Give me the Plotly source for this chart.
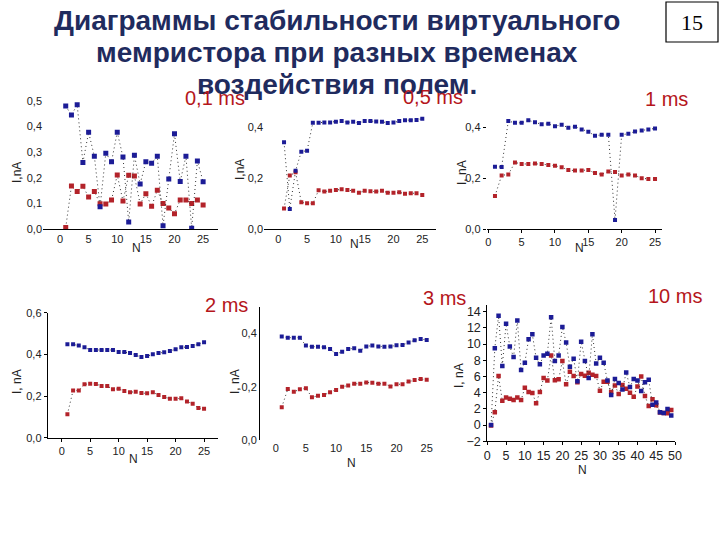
import plotly.graph_objects as go

W, H = 720, 540

# ---- data ----
n25 = list(range(1, 26))
n49 = list(range(1, 50))

blue_01 = [0.48, 0.445, 0.485, 0.26, 0.378, 0.284, 0.087, 0.296, 0.263, 0.378,
           0.281, 0.027, 0.288, 0.176, 0.263, 0.257, 0.284, 0.013, 0.195, 0.372,
           0.186, 0.284, 0.003, 0.266, 0.185]
red_01 = [0.006, 0.168, 0.146, 0.167, 0.125, 0.146, 0.099, 0.098, 0.113, 0.211,
          0.109, 0.21, 0.207, 0.098, 0.138, 0.089, 0.151, 0.1, 0.082, 0.06,
          0.113, 0.113, 0.1, 0.113, 0.094]

blue_05 = [0.341, 0.079, 0.229, 0.304, 0.308, 0.418, 0.418, 0.419, 0.419, 0.422,
           0.425, 0.419, 0.422, 0.417, 0.425, 0.425, 0.423, 0.422, 0.417, 0.419,
           0.425, 0.428, 0.428, 0.429, 0.433]
red_05 = [0.081, 0.21, 0.223, 0.105, 0.101, 0.101, 0.152, 0.147, 0.15, 0.153,
          0.156, 0.153, 0.15, 0.143, 0.15, 0.148, 0.147, 0.15, 0.143, 0.143,
          0.144, 0.139, 0.141, 0.141, 0.134]

blue_1 = [0.245, 0.244, 0.425, 0.418, 0.418, 0.428, 0.42, 0.412, 0.414, 0.405,
          0.41, 0.399, 0.403, 0.392, 0.383, 0.367, 0.371, 0.371, 0.035, 0.371,
          0.375, 0.384, 0.388, 0.392, 0.396]
red_1 = [0.13, 0.211, 0.215, 0.262, 0.256, 0.256, 0.258, 0.256, 0.252, 0.249,
         0.243, 0.232, 0.23, 0.23, 0.232, 0.22, 0.215, 0.226, 0.224, 0.211,
         0.215, 0.211, 0.2, 0.197, 0.197]

blue_2 = [0.448, 0.448, 0.442, 0.434, 0.421, 0.421, 0.421, 0.421, 0.421, 0.411,
          0.411, 0.406, 0.397, 0.387, 0.392, 0.4, 0.406, 0.41, 0.416, 0.424,
          0.434, 0.435, 0.44, 0.448, 0.458]
red_2 = [0.112, 0.227, 0.227, 0.256, 0.259, 0.258, 0.248, 0.248, 0.232, 0.235,
         0.224, 0.218, 0.221, 0.214, 0.213, 0.218, 0.205, 0.195, 0.187, 0.187,
         0.189, 0.174, 0.163, 0.142, 0.139]

blue_3 = [0.388, 0.384, 0.384, 0.384, 0.354, 0.35, 0.35, 0.348, 0.341, 0.323,
          0.331, 0.341, 0.344, 0.335, 0.351, 0.354, 0.351, 0.35, 0.351, 0.355,
          0.356, 0.366, 0.374, 0.379, 0.375]
red_3 = [0.123, 0.191, 0.181, 0.19, 0.194, 0.16, 0.166, 0.169, 0.179, 0.188,
         0.2, 0.204, 0.211, 0.211, 0.216, 0.215, 0.211, 0.211, 0.201, 0.209,
         0.209, 0.219, 0.225, 0.229, 0.226]

blue_10 = [0.0, 9.5, 13.5, 7.3, 12.5, 9.7, 8.4, 12.9, 6.8, 7.7,
           10.6, 11.2, 8.3, 7.5, 8.6, 8.8, 13.3, 7.9, 8.6, 12.1,
           10.2, 7.2, 8.2, 5.4, 10.3, 7.9, 5.8, 11.2, 7.6, 8.3,
           7.7, 5.5, 3.7, 5.7, 5.2, 4.4, 6.5, 4.7, 5.7, 5.5,
           4.2, 5.3, 5.6, 2.5, 2.8, 1.6, 1.5, 2.0, 1.2]
red_10 = [-0.05, 1.6, 6.05, 3.0, 3.4, 3.25, 3.1, 3.4, 3.1, 4.6,
          4.1, 3.95, 2.7, 4.1, 5.8, 5.5, 8.6, 5.55, 5.65, 7.9,
          5.05, 6.6, 6.05, 5.3, 6.3, 6.1, 6.45, 6.2, 6.05, 4.25,
          5.35, 5.35, 4.1, 4.9, 3.85, 4.95, 4.5, 4.0, 3.5, 4.75,
          6.0, 3.6, 2.35, 3.2, 2.45, 1.55, 1.5, 1.45, 1.85]

title_lines = ["Диаграммы стабильности виртуального",
               "мемристора при разных временах",
               "воздействия полем."]

BLUE = "#1c1c96"
RED = "#b3232a"
NAVY = "#1f2b5e"
MS_RED = "#b5161b"
FONT = "Liberation Sans, Arial"
TICKFONT = dict(family=FONT, size=11, color="#222222")


def px(x):
    return x / W


def py(y):
    return 1 - y / H


# one dict per small chart: pixel spans on the slide + axis ranges
panels = [
    dict(x=n25, b=blue_01, r=red_01, xd=(43, 218), xr=[-2.97, 27.6], yd=(229, 93.3), yr=[0, 0.53],
         yt=[0, 0.1, 0.2, 0.3, 0.4, 0.5], xline=True, yline=False, ticks=False, ms=5),
    dict(x=n25, b=blue_05, r=red_05, xd=(264, 435.7), xr=[-2.48, 27.33], yd=(229, 112), yr=[0, 0.46],
         yt=[0, 0.2, 0.4], xline=True, yline=False, ticks=False, ms=4),
    dict(x=n25, b=blue_1, r=red_1, xd=(486.7, 661.7), xr=[-0.24, 26.0], yd=(229, 102), yr=[0, 0.5],
         yt=[0, 0.2, 0.4], xline=True, yline=False, ticks=True, ms=4),
    dict(x=n25, b=blue_2, r=red_2, xd=(47.7, 218.3), xr=[-2.46, 27.5], yd=(437.7, 312.7), yr=[0, 0.6],
         yt=[0, 0.2, 0.4, 0.6], xline=True, yline=True, ticks=True, ms=4),
    dict(x=n25, b=blue_3, r=red_3, xd=(260, 441.8), xr=[-2.6, 27.5], yd=(440, 306.7), yr=[0, 0.5],
         yt=[0, 0.2, 0.4], xline=False, yline=True, ticks=False, ms=4),
    dict(x=n49, b=blue_10, r=red_10, xd=(487.3, 675), xr=[0, 50], yd=(441.3, 305.2), yr=[-2, 14.8],
         yt=list(range(-2, 15, 2)), xline=True, yline=True, ticks=True, ms=4.5, big=True),
]

fig = go.Figure()
layout = {}

for i, p in enumerate(panels, start=1):
    xa = "x" if i == 1 else f"x{i}"
    ya = "y" if i == 1 else f"y{i}"
    for vals, col in [(p["r"], RED), (p["b"], BLUE)]:
        fig.add_trace(go.Scatter(
            x=p["x"], y=vals, xaxis=xa, yaxis=ya, mode="lines+markers",
            line=dict(color="#333333", width=1, dash="1px,3px"),
            marker=dict(symbol="square", size=p["ms"], color=col, line=dict(width=0)),
            showlegend=False, hoverinfo="skip"
        ))
    tf = dict(TICKFONT)
    if p.get("big"):
        tf["size"] = 12.5
    xkey = "xaxis" if i == 1 else f"xaxis{i}"
    ykey = "yaxis" if i == 1 else f"yaxis{i}"
    layout[xkey] = dict(
        domain=[px(p["xd"][0]), px(p["xd"][1])], range=p["xr"], anchor=ya, automargin=False,
        tickvals=list(range(0, 51 if p.get("big") else 26, 5)),
        showgrid=False, zeroline=False, showline=p["xline"], linecolor="#000", linewidth=1,
        ticks="outside" if p["ticks"] else "", ticklen=3, tickcolor="#000",
        tickfont=tf, fixedrange=True
    )
    layout[ykey] = dict(
        domain=[py(p["yd"][0]), py(p["yd"][1])], range=p["yr"], anchor=xa, automargin=False,
        tickvals=p["yt"], tickformat="d" if p.get("big") else ".1f",
        showgrid=False, zeroline=False, showline=p["yline"], linecolor="#000", linewidth=1,
        ticks="outside" if p["ticks"] else "", ticklen=3, tickcolor="#000",
        tickfont=tf, fixedrange=True
    )

annotations = []


def label(txt, x, y, size, color, family=FONT, angle=0):
    annotations.append(dict(text=txt, x=px(x), y=py(y), xref="paper", yref="paper",
                            showarrow=False, xanchor="center", yanchor="middle", textangle=angle,
                            font=dict(family=family, size=size, color=color)))


# axis titles
for x, y in [(136, 248), (354, 244), (579, 248), (133, 459), (351, 463), (582, 470)]:
    label("N", x, y, 12, "#222")
for txt, x, y in [("I,nA", 17, 173), ("I,nA", 240, 170), ("I, nA", 462, 173),
                  ("I, nA", 17, 382), ("I, nA", 235, 382), ("I, nA", 459, 375)]:
    label(txt, x, y, 12, "#222", angle=-90)

# title
for txt, y in zip(title_lines, [21, 52, 84]):
    label(f"<b>{txt}</b>", 337, y, 28, NAVY)

# pulse duration labels
for txt, x, y in [("0,1 ms", 215, 98), ("0,5 ms", 433, 97), ("1 ms", 666, 99),
                  ("2 ms", 226, 305), ("3 ms", 444, 298), ("10 ms", 675, 296)]:
    label(txt, x, y, 20, MS_RED)

# slide number
label("15", 692, 22, 22, "#000", family="Liberation Serif, Times New Roman")

fig.update_layout(
    width=W, height=H,
    margin=dict(l=0, r=0, t=0, b=0, autoexpand=False),
    paper_bgcolor="white", plot_bgcolor="rgba(0,0,0,0)",
    separators=", ",
    annotations=annotations,
    shapes=[dict(type="rect", xref="paper", yref="paper",
                 x0=px(666), x1=px(718), y0=py(42), y1=py(2),
                 line=dict(color="#000", width=1.2))],
    **layout
)

# drop the browser's default 8px body margin so the figure sits at the window corner
fig.write_html("out.html", config={"displayModeBar": False},
               post_script="document.body.style.margin='0';")
